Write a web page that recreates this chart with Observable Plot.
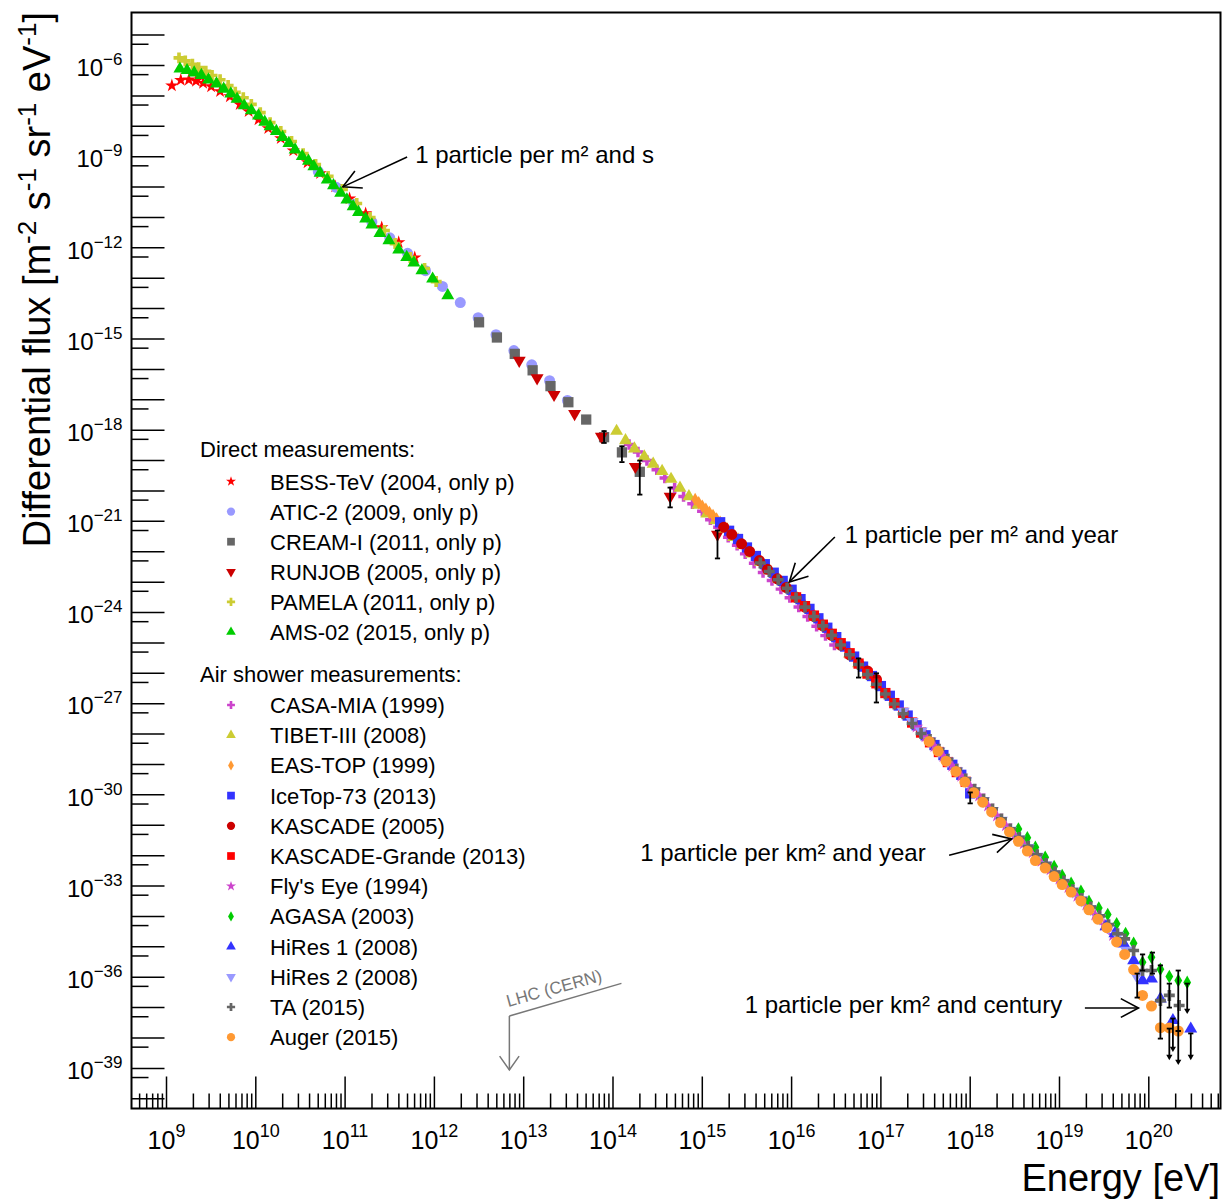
<!DOCTYPE html>
<html>
<head>
<meta charset="utf-8">
<script src="https://cdn.jsdelivr.net/npm/d3@7"></script>
<script src="https://cdn.jsdelivr.net/npm/@observablehq/plot@0.6"></script>
<style>
  html, body { margin: 0; padding: 0; background: #fff; }
  #chart svg { display: block; }
</style>
</head>
<body>
<div id="chart"></div>
<script>
// ---------- DATA: [log10(E / eV), log10(flux / m^-2 s^-1 sr^-1 eV^-1)] ----------
const bessTeV = [[9.06,-6.66],[9.16,-6.48],[9.25,-6.47],[9.33,-6.51],[9.41,-6.58],[9.50,-6.69],[9.60,-6.85],[9.71,-7.02],[9.82,-7.28],[9.92,-7.51],[10.03,-7.78],[10.14,-8.07],[10.28,-8.40],[10.42,-8.80],[10.58,-9.19],[10.72,-9.55],[10.89,-9.98],[11.05,-10.38],[11.23,-10.87],[11.41,-11.33],[11.60,-11.82],[11.78,-12.32]];
const atic2 = [[10.70,-9.49],[10.90,-10.01],[11.10,-10.57],[11.30,-11.15],[11.50,-11.67],[11.70,-12.18],[11.90,-12.75],[12.09,-13.27],[12.29,-13.80],[12.49,-14.30],[12.69,-14.86],[12.89,-15.38],[13.09,-15.85],[13.29,-16.37],[13.49,-17.02]];
const creamI = [[12.50,-14.45],[12.70,-14.95],[12.90,-15.49],[13.10,-16.03],[13.30,-16.55],[13.50,-17.08],[13.70,-17.65],[13.90,-18.23],[14.10,-18.73],[14.30,-19.37]];
const runjob = [[12.95,-15.71],[13.15,-16.28],[13.34,-16.83],[13.57,-17.46],[13.87,-18.21],[14.25,-19.20],[14.64,-20.18],[15.17,-21.43]];
const pamela = [[9.14,-5.75],[9.21,-5.85],[9.29,-5.96],[9.36,-6.07],[9.44,-6.19],[9.51,-6.33],[9.60,-6.47],[9.69,-6.66],[9.77,-6.88],[9.86,-7.06],[9.95,-7.28],[10.05,-7.55],[10.16,-7.88],[10.28,-8.17],[10.40,-8.50],[10.53,-8.90],[10.67,-9.26],[10.81,-9.65],[10.97,-10.08],[11.13,-10.54],[11.28,-11.00],[11.44,-11.43],[11.56,-11.86],[11.73,-12.32],[11.89,-12.68],[12.02,-13.11]];
const ams02 = [[9.15,-6.11],[9.23,-6.16],[9.31,-6.24],[9.39,-6.32],[9.47,-6.47],[9.56,-6.60],[9.64,-6.77],[9.72,-6.93],[9.79,-7.10],[9.87,-7.32],[9.95,-7.48],[10.03,-7.65],[10.10,-7.86],[10.16,-8.01],[10.23,-8.16],[10.30,-8.36],[10.37,-8.56],[10.44,-8.77],[10.52,-8.99],[10.59,-9.14],[10.65,-9.32],[10.72,-9.54],[10.80,-9.76],[10.87,-9.95],[10.95,-10.20],[11.02,-10.42],[11.09,-10.64],[11.15,-10.83],[11.23,-11.04],[11.30,-11.24],[11.39,-11.52],[11.49,-11.76],[11.60,-12.06],[11.69,-12.31],[11.77,-12.49],[11.86,-12.75],[11.98,-13.02],[12.15,-13.57]];
const casaMia = [[14.18,-18.47],[14.28,-18.72],[14.38,-19.00],[14.49,-19.30],[14.58,-19.57],[14.69,-19.90],[14.79,-20.18],[14.89,-20.42],[15.00,-20.67],[15.09,-20.95],[15.18,-21.19],[15.29,-21.52],[15.39,-21.79],[15.48,-22.07],[15.58,-22.38],[15.68,-22.68],[15.78,-22.95],[15.88,-23.23],[15.98,-23.51],[16.08,-23.82],[16.18,-24.13],[16.28,-24.45],[16.38,-24.76],[16.48,-25.07]];
const tibet3 = [[14.04,-18.03],[14.14,-18.34],[14.24,-18.61],[14.35,-18.87],[14.45,-19.11],[14.55,-19.35],[14.65,-19.61],[14.75,-19.90],[14.85,-20.18],[14.95,-20.46],[15.05,-20.75],[15.15,-20.97],[15.25,-21.24],[15.35,-21.52],[15.45,-21.79],[15.55,-22.07],[15.65,-22.34],[15.75,-22.62],[15.85,-22.89],[15.95,-23.17],[16.05,-23.48],[16.15,-23.79],[16.25,-24.10],[16.35,-24.41],[16.45,-24.72],[16.55,-25.04],[16.65,-25.36],[16.75,-25.68],[16.85,-26.01],[16.95,-26.33]];
const easTop = [[14.92,-20.28],[14.96,-20.39],[15.00,-20.50],[15.04,-20.60],[15.08,-20.71],[15.12,-20.81],[15.16,-20.92],[15.20,-21.03],[15.24,-21.14],[15.28,-21.25],[15.32,-21.36],[15.36,-21.47],[15.40,-21.58]];
const iceTop73 = [[15.2,-21.03],[15.3,-21.31],[15.4,-21.58],[15.5,-21.86],[15.6,-22.14],[15.7,-22.41],[15.8,-22.69],[15.9,-22.96],[16.0,-23.25],[16.1,-23.56],[16.2,-23.88],[16.3,-24.19],[16.4,-24.50],[16.5,-24.81],[16.6,-25.12],[16.7,-25.45],[16.8,-25.78],[16.9,-26.09],[17.0,-26.42],[17.1,-26.74],[17.2,-27.06],[17.3,-27.39],[17.4,-27.71],[17.5,-28.04],[17.6,-28.36],[17.7,-28.69],[17.8,-29.01],[17.9,-29.34],[18.0,-29.95]];
const kascade = [[15.24,-21.19],[15.33,-21.43],[15.44,-21.74],[15.53,-21.99],[15.64,-22.29],[15.73,-22.58],[15.84,-22.89],[15.94,-23.18],[16.05,-23.50],[16.15,-23.82],[16.25,-24.13],[16.35,-24.44],[16.45,-24.75],[16.55,-25.07],[16.65,-25.39],[16.75,-25.67],[16.85,-25.92],[16.95,-26.20]];
const kascadeGrande = [[16.05,-23.50],[16.15,-23.79],[16.25,-24.10],[16.35,-24.40],[16.45,-24.70],[16.55,-25.01],[16.65,-25.34],[16.75,-25.68],[16.85,-26.01],[16.95,-26.33],[17.05,-26.65],[17.15,-26.98],[17.25,-27.30],[17.35,-27.62],[17.45,-27.95],[17.55,-28.27],[17.65,-28.59],[17.75,-28.92],[17.85,-29.25],[17.95,-29.57]];
const flysEye = [[17.4,-27.76],[17.5,-28.08],[17.6,-28.40],[17.7,-28.73],[17.8,-29.05],[17.9,-29.38],[18.0,-29.71],[18.1,-30.03],[18.2,-30.36],[18.3,-30.69],[18.4,-31.01],[18.5,-31.33],[18.6,-31.60],[18.7,-31.90],[18.8,-32.18],[18.9,-32.46],[19.0,-32.76],[19.1,-33.04],[19.2,-33.33],[19.3,-33.62],[19.4,-33.95],[19.5,-34.28],[19.6,-34.62]];
const agasa = [[18.54,-31.12],[18.64,-31.41],[18.73,-31.72],[18.84,-32.05],[18.94,-32.36],[19.03,-32.65],[19.13,-32.91],[19.24,-33.17],[19.33,-33.51],[19.44,-33.72],[19.54,-33.94],[19.64,-34.24],[19.74,-34.56],[19.83,-34.88],[19.93,-35.51],[20.03,-35.34],[20.13,-35.74],[20.23,-35.98],[20.33,-36.11],[20.43,-36.17]];
const hires1 = [[19.52,-34.33],[19.62,-34.56],[19.72,-34.90],[19.83,-35.45],[19.93,-36.11],[20.03,-36.05],[20.13,-36.71],[20.27,-37.42],[20.47,-37.70]];
const hires2 = [[17.25,-27.26],[17.35,-27.59],[17.45,-27.91],[17.55,-28.23],[17.65,-28.56],[17.75,-28.89],[17.85,-29.21],[17.95,-29.54],[18.05,-29.87],[18.15,-30.19],[18.25,-30.52],[18.35,-30.84],[18.45,-31.17],[18.55,-31.46],[18.65,-31.74],[18.75,-32.03],[18.85,-32.31],[18.95,-32.60],[19.05,-32.88],[19.15,-33.17],[19.25,-33.46],[19.35,-33.75],[19.45,-34.05],[19.55,-34.36],[19.65,-34.63],[19.75,-35.12],[19.86,-35.94]];
const ta2015 = [[15.65,-22.37],[15.75,-22.65],[15.85,-22.92],[15.95,-23.20],[16.05,-23.51],[16.15,-23.82],[16.25,-24.13],[16.35,-24.44],[16.45,-24.75],[16.55,-25.07],[16.65,-25.39],[16.75,-25.71],[16.85,-26.04],[16.95,-26.36],[17.05,-26.68],[17.15,-27.01],[17.25,-27.33],[17.35,-27.65],[17.45,-27.98],[17.55,-28.18],[17.65,-28.50],[17.75,-28.83],[17.85,-29.16],[17.95,-29.48],[18.05,-29.81],[18.15,-30.14],[18.25,-30.46],[18.35,-30.79],[18.45,-31.12],[18.55,-31.40],[18.65,-31.69],[18.75,-31.97],[18.85,-32.26],[18.95,-32.54],[19.05,-32.83],[19.15,-33.12],[19.25,-33.41],[19.35,-33.69],[19.45,-33.98],[19.55,-34.27],[19.65,-34.57],[19.73,-34.74],[19.83,-35.12],[19.93,-35.78],[20.03,-35.78],[20.13,-36.77],[20.23,-36.60],[20.34,-36.93]];
const auger2015 = [[17.54,-28.24],[17.64,-28.56],[17.73,-28.89],[17.84,-29.23],[17.94,-29.58],[18.04,-29.93],[18.14,-30.24],[18.24,-30.56],[18.34,-30.91],[18.44,-31.22],[18.54,-31.53],[18.64,-31.85],[18.73,-32.16],[18.84,-32.41],[18.94,-32.69],[19.03,-32.95],[19.13,-33.20],[19.24,-33.49],[19.33,-33.78],[19.43,-34.09],[19.53,-34.37],[19.64,-34.84],[19.73,-35.25],[19.83,-35.75],[19.93,-36.60],[20.03,-36.95],[20.13,-37.66],[20.23,-37.67],[20.33,-37.77]];
// error bars: [log10 E, log10 F low, log10 F high, upper-limit arrow (1) or plain bar (0)]
const errorBars = [[13.90,-18.42,-18.03,0],[14.10,-19.05,-18.53,0],[14.30,-20.12,-19.00,0],[14.64,-20.54,-19.89,0],[15.17,-22.22,-21.30,0],[16.75,-26.14,-25.51,0],[16.95,-26.96,-26.00,0],[18.00,-30.28,-29.92,0],[19.87,-36.67,-35.88,0],[19.93,-35.78,-35.25,0],[20.04,-35.88,-35.19,0],[20.13,-38.02,-35.61,0],[20.23,-37.00,-36.21,0],[20.23,-38.68,-37.69,1],[20.33,-37.77,-35.78,0],[20.33,-38.84,-37.77,1],[20.27,-38.41,-37.36,1],[20.43,-37.16,-36.21,1],[20.47,-38.68,-37.85,1]];

// legend labels
const directLabels = ["BESS-TeV (2004, only p)","ATIC-2 (2009, only p)","CREAM-I (2011, only p)","RUNJOB (2005, only p)","PAMELA (2011, only p)","AMS-02 (2015, only p)"];
const airLabels = ["CASA-MIA (1999)","TIBET-III (2008)","EAS-TOP (1999)","IceTop-73 (2013)","KASCADE (2005)","KASCADE-Grande (2013)","Fly's Eye (1994)","AGASA (2003)","HiRes 1 (2008)","HiRes 2 (2008)","TA (2015)","Auger (2015)"];

// axis tick exponents
const xLabelExps = d3.range(9, 21);
const yLabelExps = d3.range(-39, -5, 3);

// ---------- symbols ----------
const triangleDown = { draw(ctx, size) { const a = Math.sqrt(size * 4 / Math.sqrt(3)), h = a * Math.sqrt(3) / 2; ctx.moveTo(0, 2 * h / 3); ctx.lineTo(a / 2, -h / 3); ctx.lineTo(-a / 2, -h / 3); ctx.closePath(); } };
const vTick = L => ({ draw(ctx) { ctx.moveTo(0, 0); ctx.lineTo(0, -L); } });
const hTick = L => ({ draw(ctx) { ctx.moveTo(0, 0); ctx.lineTo(L, 0); } });
const capSym = { draw(ctx) { ctx.moveTo(-2.6, 0); ctx.lineTo(2.6, 0); } };
const d3Sym = { star: d3.symbolStar, circle: d3.symbolCircle, square: d3.symbolSquare, cross: d3.symbolCross, triangle: d3.symbolTriangle, diamond: d3.symbolDiamond };

const series = [
  { data: bessTeV,       symbol: "star",       color: "#ff0000", r: 4.2 },
  { data: atic2,         symbol: "circle",     color: "#9999ff", r: 5.5 },
  { data: creamI,        symbol: "square",     color: "#666666", r: 5.8 },
  { data: runjob,        symbol: triangleDown, color: "#cc0000", r: 4.8 },
  { data: pamela,        symbol: "cross",      color: "#cccc33", r: 4.6 },
  { data: ams02,         symbol: "triangle",   color: "#00cc00", r: 4.8 },
  { data: casaMia,       symbol: "cross",      color: "#cc44cc", r: 4.4 },
  { data: tibet3,        symbol: "triangle",   color: "#cccc33", r: 4.8 },
  { data: easTop,        symbol: "diamond",    color: "#ff9933", r: 4.1 },
  { data: iceTop73,      symbol: "square",     color: "#3333ff", r: 5.8 },
  { data: kascade,       symbol: "circle",     color: "#cc0000", r: 5.5 },
  { data: kascadeGrande, symbol: "square",     color: "#ff0000", r: 5.8 },
  { data: flysEye,       symbol: "star",       color: "#cc44cc", r: 4.2 },
  { data: agasa,         symbol: "diamond",    color: "#00cc00", r: 4.1 },
  { data: hires1,        symbol: "triangle",   color: "#3333ff", r: 4.8 },
  { data: hires2,        symbol: triangleDown, color: "#9999ff", r: 4.8 },
  { data: ta2015,        symbol: "cross",      color: "#666666", r: 4.6 },
  { data: auger2015,     symbol: "circle",     color: "#ff9933", r: 5.5 }
];
series.forEach((s, i) => s.label = i < 6 ? directLabels[i] : airLabels[i - 6]);

const xDomain = [10 ** 8.608, 10 ** 20.803];
const yDomain = [10 ** -40.32, 10 ** -4.256];

const xMinorTicks = [];
for (let n = 8; n <= 20; n++) for (let k = 2; k <= 9; k++) { const v = k * 10 ** n; if (v > xDomain[0] && v < xDomain[1]) xMinorTicks.push(v); }
const yMajorTicks = d3.range(-40, -4).map(n => 10 ** n);
const yMinorTicks = d3.range(-40, -4).map(n => 0.5 * 10 ** n).filter(v => v > 10 ** -40.2 && v < 10 ** -4.35);

const expFmt = d => "10^" + Math.round(Math.log10(d));
const E = d => 10 ** d[0], F = d => 10 ** d[1];

const plot = Plot.plot({
  width: 1225, height: 1201,
  marginLeft: 131, marginRight: 5, marginTop: 12, marginBottom: 93,
  style: { fontFamily: "'Liberation Sans', Arial, Helvetica, sans-serif", fontSize: "24px", background: "#fff", color: "#000" },
  x: { type: "log", domain: xDomain },
  y: { type: "log", domain: yDomain },
  marks: [
    Plot.dot(xLabelExps.map(n => 10 ** n), { x: d => d, frameAnchor: "bottom", symbol: vTick(32), stroke: "#000", strokeWidth: 1.5, fill: "none" }),
    Plot.dot(xMinorTicks, { x: d => d, frameAnchor: "bottom", symbol: vTick(15), stroke: "#000", strokeWidth: 1.5, fill: "none" }),
    Plot.dot(yMajorTicks, { y: d => d, frameAnchor: "left", symbol: hTick(33), stroke: "#000", strokeWidth: 1.5, fill: "none" }),
    Plot.dot(yMinorTicks, { y: d => d, frameAnchor: "left", symbol: hTick(17), stroke: "#000", strokeWidth: 1.5, fill: "none" }),
    Plot.axisX(xLabelExps.map(n => 10 ** n), { tickSize: 0, tickPadding: 23, fontSize: 25, tickFormat: expFmt, label: null }),
    Plot.axisY(yLabelExps.map(n => 10 ** n), { anchor: "left", tickSize: 0, tickPadding: 9, fontSize: 24, dy: 3, tickFormat: expFmt, label: null }),
    ...series.map(s => Plot.dot(s.data, { x: E, y: F, symbol: s.symbol, fill: s.color, stroke: "none", r: s.r })),
    Plot.ruleX(errorBars, { x: E, y1: d => 10 ** d[1], y2: d => 10 ** d[2], stroke: "#000", strokeWidth: 1.8 }),
    Plot.dot(errorBars, { x: E, y: d => 10 ** d[2], symbol: capSym, stroke: "#000", strokeWidth: 1.8, fill: "none" }),
    Plot.dot(errorBars.filter(d => !d[3]), { x: E, y: d => 10 ** d[1], symbol: capSym, stroke: "#000", strokeWidth: 1.8, fill: "none" }),
    Plot.dot(errorBars.filter(d => d[3]), { x: E, y: d => 10 ** d[1], symbol: triangleDown, fill: "#000", r: 2.3, dy: -2 }),
    Plot.frame({ stroke: "#000", strokeWidth: 2 })
  ]
});
document.getElementById("chart").appendChild(plot);

const svg = d3.select(plot);
const sx = plot.scale("x"), sy = plot.scale("y");
const X = v => sx.apply(10 ** v), Y = v => sy.apply(10 ** v);

function supify(sel, supSize, rise) {
  sel.each(function () {
    const t = d3.select(this); const m = t.text().match(/^10\^(.+)$/);
    if (!m) return;
    t.text("");
    t.append("tspan").text("10");
    t.append("tspan").attr("font-size", supSize).attr("dy", -rise).text(m[1].replace("-", "\u2212"));
  });
}
supify(svg.selectAll('g[aria-label="x-axis tick label"] text'), 18, 12);
supify(svg.selectAll('g[aria-label="y-axis tick label"] text'), 17, 11);

const ff = "'Liberation Sans', Arial, Helvetica, sans-serif";
const layer = svg.append("g").attr("font-family", ff).attr("fill", "#000").attr("text-anchor", "start");

// axis titles
const yt = layer.append("text").attr("transform", "translate(50,12) rotate(-90)").attr("text-anchor", "end").attr("font-size", 38);
[["Differential flux [m", 0], ["-2", 1], [" s", 0], ["-1", 1], [" sr", 0], ["-1", 1], [" eV", 0], ["-1", 1], ["]", 0]].forEach(([s, sup], i, arr) => {
  const ts = yt.append("tspan").text(s);
  if (sup) ts.attr("font-size", 26).attr("dy", -14);
  else if (i > 0 && arr[i - 1][1]) ts.attr("dy", 14);
});
layer.append("text").attr("x", 1220).attr("y", 1191).attr("text-anchor", "end").attr("font-size", 38).text("Energy [eV]");

function arrow(g, x1, y1, x2, y2, { stroke = "#000", len = 20, half = 28, width = 1.6 } = {}) {
  const a = Math.atan2(y2 - y1, x2 - x1), h = half * Math.PI / 180;
  g.append("line").attr("x1", x1).attr("y1", y1).attr("x2", x2).attr("y2", y2).attr("stroke", stroke).attr("stroke-width", width);
  const p1 = [x2 - len * Math.cos(a - h), y2 - len * Math.sin(a - h)], p2 = [x2 - len * Math.cos(a + h), y2 - len * Math.sin(a + h)];
  g.append("path").attr("d", `M${p1}L${x2},${y2}L${p2}`).attr("fill", "none").attr("stroke", stroke).attr("stroke-width", width);
}

const annotations = [
  { text: "1 particle per m\u00b2 and s", tx: 11.79, ty: -8.96, a: [11.70, -9.03, 10.98, -10.01] },
  { text: "1 particle per m\u00b2 and year", tx: 16.60, ty: -21.47, a: [16.49, -21.53, 15.98, -23.01] },
  { text: "1 particle per km\u00b2 and year", tx: 14.31, ty: -31.93, a: [17.77, -32.00, 18.47, -31.47] },
  { text: "1 particle per km\u00b2 and century", tx: 15.48, ty: -36.93, a: [19.29, -37.03, 19.89, -37.03] }
];
annotations.forEach(an => {
  layer.append("text").attr("x", X(an.tx)).attr("y", Y(an.ty) + 8).attr("font-size", 24).text(an.text);
  arrow(layer, X(an.a[0]), Y(an.a[1]), X(an.a[2]), Y(an.a[3]));
});

const lhc = { e: Math.log10(7e12), corner: -37.29, endE: 14.10, endF: -36.22, tip: -39.07 };
layer.append("line").attr("x1", X(lhc.e)).attr("y1", Y(lhc.corner)).attr("x2", X(lhc.endE)).attr("y2", Y(lhc.endF)).attr("stroke", "#777").attr("stroke-width", 1.5);
arrow(layer, X(lhc.e), Y(lhc.corner), X(lhc.e), Y(lhc.tip), { stroke: "#777", len: 17, half: 35, width: 1.5 });
layer.append("text").attr("transform", `translate(${X(lhc.e) - 1},${Y(lhc.corner) - 9}) rotate(-15.5)`).attr("font-size", 17).attr("fill", "#777").text("LHC (CERN)");

const lg = layer.append("g").attr("font-size", 22);
lg.append("text").attr("x", 200).attr("y", 457).text("Direct measurements:");
lg.append("text").attr("x", 200).attr("y", 681.5).text("Air shower measurements:");
series.forEach((s, i) => {
  const y = i < 6 ? 481.5 + i * 30.1 : 705 + (i - 6) * 30.2;
  const type = typeof s.symbol === "string" ? d3Sym[s.symbol] : s.symbol;
  const rr = s.r * 0.75;
  lg.append("path").attr("transform", `translate(231,${y})`).attr("d", d3.symbol(type, rr * rr * Math.PI)()).attr("fill", s.color);
  lg.append("text").attr("x", 270).attr("y", y + 8).text(s.label);
});
</script>
</body>
</html>
